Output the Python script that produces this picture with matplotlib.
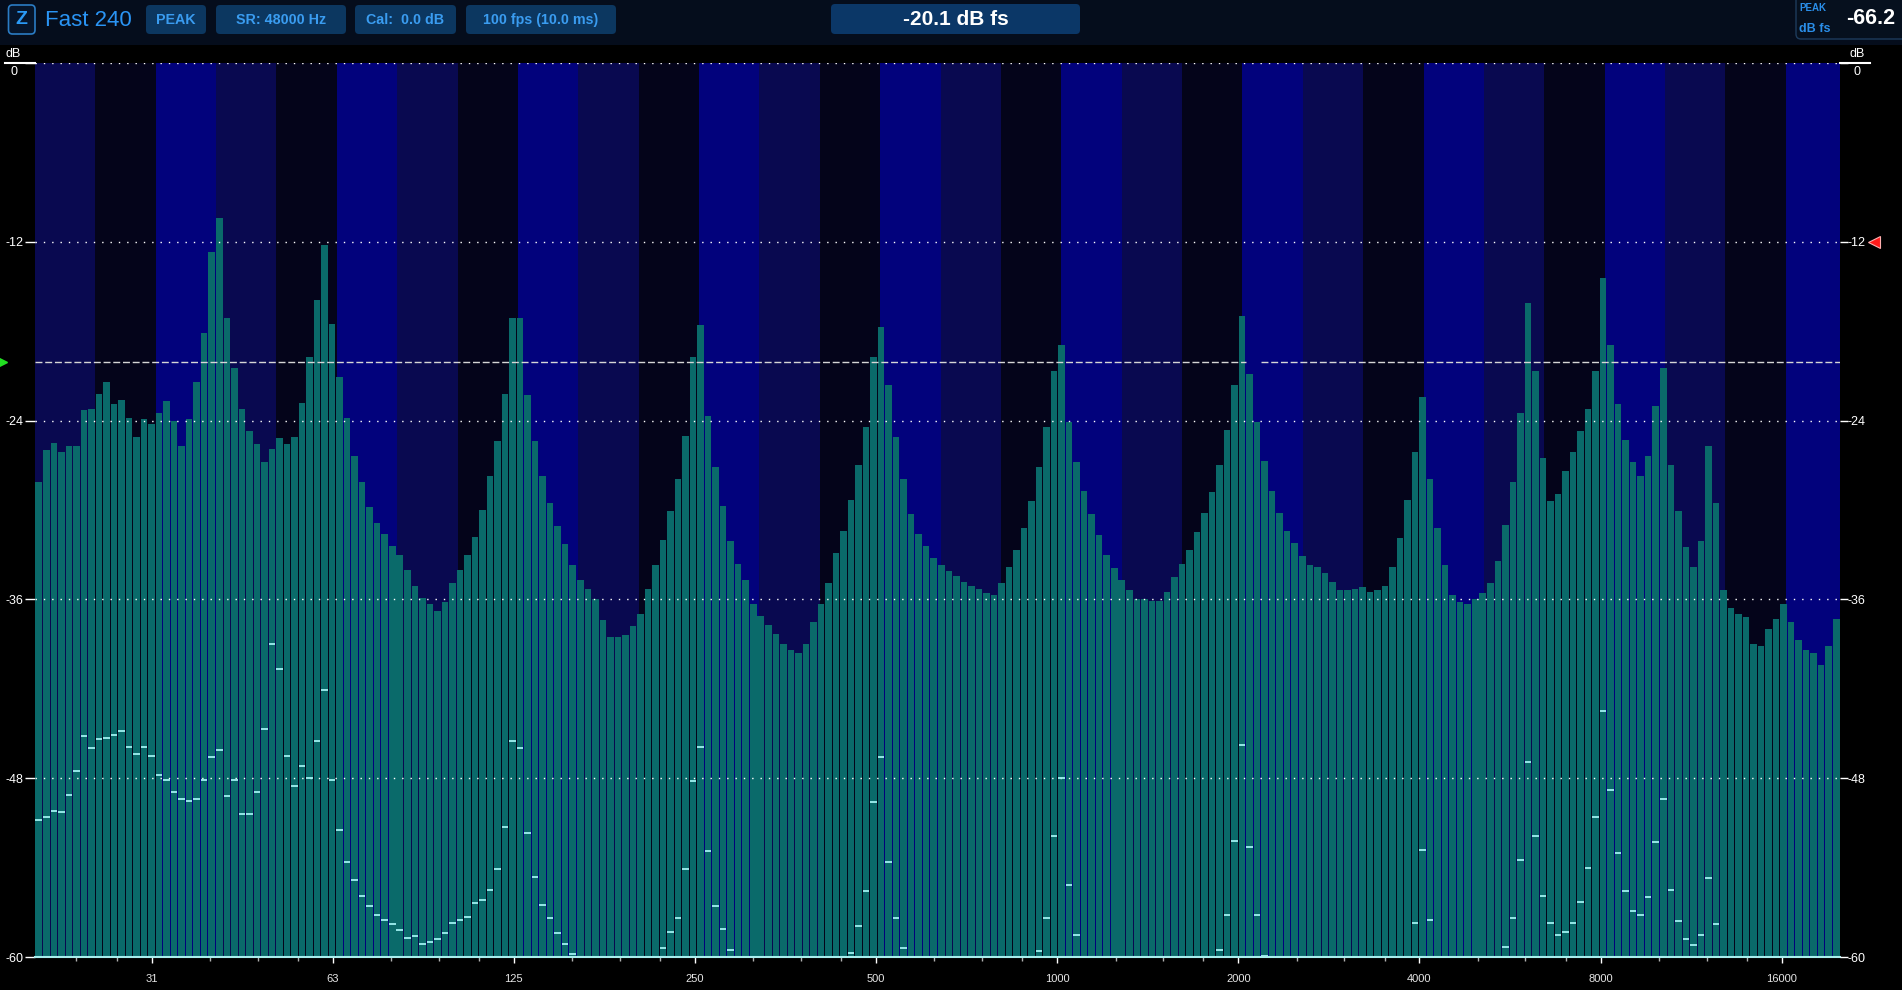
import numpy as np
import matplotlib
matplotlib.use("Agg")
import matplotlib.pyplot as plt
from matplotlib.patches import Rectangle, FancyBboxPatch
import matplotlib.transforms as mtransforms

plt.rcParams['font.family'] = ['Liberation Sans', 'DejaVu Sans']

# ---------------- data ----------------
n_bands = 240
f_low, f_high = 20.0, 20000.0

peak_db = [
    -28.1, -26.0, -25.5, -26.1, -25.7, -25.7, -23.3, -23.2, -22.2, -21.4,
    -22.9, -22.6, -23.8, -25.1, -23.9, -24.2, -23.5, -22.7, -24.0, -25.7,
    -23.9, -21.4, -18.1, -12.7, -10.4, -17.1, -20.5, -23.2, -24.7, -25.6,
    -26.8, -25.9, -25.2, -25.6, -25.1, -22.8, -19.7, -15.9, -12.2, -17.5,
    -21.1, -23.8, -26.4, -28.1, -29.8, -30.9, -31.6, -32.4, -33.0, -34.0,
    -35.1, -35.9, -36.3, -36.8, -36.2, -34.9, -34.0, -33.0, -31.8, -30.0,
    -27.7, -25.4, -22.2, -17.1, -17.1, -22.3, -25.4, -27.7, -29.5, -31.1,
    -32.3, -33.7, -34.7, -35.3, -36.0, -37.4, -38.5, -38.5, -38.4, -37.8,
    -37.0, -35.3, -33.7, -32.0, -30.1, -27.9, -25.0, -19.7, -17.6, -23.7,
    -27.1, -29.7, -32.1, -33.6, -34.7, -36.3, -37.1, -37.7, -38.3, -39.0,
    -39.4, -39.6, -39.0, -37.5, -36.3, -34.9, -32.9, -31.4, -29.3, -27.0,
    -24.4, -19.7, -17.7, -21.6, -25.1, -27.9, -30.3, -31.6, -32.4, -33.2,
    -33.7, -34.1, -34.4, -34.8, -35.1, -35.3, -35.6, -35.7, -34.9, -33.8,
    -32.7, -31.2, -29.4, -27.1, -24.4, -20.7, -18.9, -24.1, -26.8, -28.7,
    -30.3, -31.7, -33.0, -33.9, -34.7, -35.4, -36.0, -36.0, -36.1, -36.1,
    -35.5, -34.5, -33.6, -32.7, -31.5, -30.2, -28.8, -27.0, -24.6, -21.6,
    -17.0, -20.9, -24.1, -26.7, -28.7, -30.2, -31.4, -32.2, -33.1, -33.7,
    -33.8, -34.2, -34.8, -35.4, -35.4, -35.3, -35.2, -35.5, -35.4, -35.1,
    -33.8, -31.9, -29.3, -26.1, -22.4, -27.9, -31.2, -33.7, -35.7, -36.2,
    -36.3, -36.0, -35.6, -34.9, -33.4, -31.0, -28.1, -23.5, -16.1, -20.7,
    -26.5, -29.4, -28.9, -27.4, -26.1, -24.7, -23.2, -20.7, -14.4, -18.9,
    -22.9, -25.3, -26.8, -27.7, -26.4, -23.0, -20.5, -27.0, -30.1, -32.5,
    -33.8, -32.1, -25.7, -29.5, -35.4, -36.6, -37.0, -37.2, -39.0, -39.1,
    -38.0, -37.3, -36.3, -37.5, -38.7, -39.4, -39.6, -40.4, -39.1, -37.3,
]

min_db = [
    -50.8, -50.6, -50.2, -50.3, -49.1, -47.5, -45.2, -46.0, -45.4, -45.3,
    -45.1, -44.8, -45.9, -46.4, -45.9, -46.5, -47.8, -48.1, -48.9, -49.4,
    -49.5, -49.4, -48.1, -46.6, -46.1, -49.2, -48.1, -50.4, -50.4, -48.9,
    -44.7, -39.0, -40.7, -46.5, -48.5, -47.2, -48.0, -45.5, -42.1, -48.1,
    -51.5, -53.6, -54.8, -55.9, -56.6, -57.2, -57.5, -57.8, -58.2, -58.7,
    -58.6, -59.1, -59.0, -58.8, -58.4, -57.7, -57.5, -57.3, -56.4, -56.2,
    -55.5, -54.1, -51.3, -45.5, -46.0, -51.7, -54.6, -56.5, -57.4, -58.4,
    -59.1, -59.8, -60.0, -60.0, -60.0, -60.0, -60.0, -60.0, -60.0, -60.0,
    -60.0, -60.0, -60.0, -59.4, -58.3, -57.4, -54.1, -48.2, -45.9, -52.9,
    -56.6, -58.1, -59.5, -60.0, -60.0, -60.0, -60.0, -60.0, -60.0, -60.0,
    -60.0, -60.0, -60.0, -60.0, -60.0, -60.0, -60.0, -60.0, -59.7, -57.9,
    -55.6, -49.6, -46.6, -53.6, -57.4, -59.4, -60.0, -60.0, -60.0, -60.0,
    -60.0, -60.0, -60.0, -60.0, -60.0, -60.0, -60.0, -60.0, -60.0, -60.0,
    -60.0, -60.0, -60.0, -59.6, -57.4, -51.9, -48.0, -55.2, -58.5, -60.0,
    -60.0, -60.0, -60.0, -60.0, -60.0, -60.0, -60.0, -60.0, -60.0, -60.0,
    -60.0, -60.0, -60.0, -60.0, -60.0, -60.0, -60.0, -59.5, -57.2, -52.2,
    -45.8, -52.6, -57.2, -59.9, -60.0, -60.0, -60.0, -60.0, -60.0, -60.0,
    -60.0, -60.0, -60.0, -60.0, -60.0, -60.0, -60.0, -60.0, -60.0, -60.0,
    -60.0, -60.0, -60.0, -57.7, -52.8, -57.5, -60.0, -60.0, -60.0, -60.0,
    -60.0, -60.0, -60.0, -60.0, -60.0, -59.3, -57.4, -53.5, -46.9, -51.9,
    -55.9, -57.7, -58.5, -58.3, -57.7, -56.3, -54.0, -50.6, -43.5, -48.8,
    -53.0, -55.6, -56.9, -57.2, -56.0, -52.3, -49.4, -55.5, -57.6, -58.8,
    -59.2, -58.5, -54.7, -57.8, -60.0, -60.0, -60.0, -60.0, -60.0, -60.0,
    -60.0, -60.0, -60.0, -60.0, -60.0, -60.0, -60.0, -60.0, -60.0, -60.0,
]

level_db = -20.1
level_gap_hz = (2060.0, 2180.0)
threshold_db = -12.0
peak_readout = "-66.2"

xtick_freqs = [31.25, 62.5, 125, 250, 500, 1000, 2000, 4000, 8000, 16000]
xtick_labels = ['31', '63', '125', '250', '500', '1000', '2000', '4000', '8000', '16000']
ytick_vals = [0, -12, -24, -36, -48, -60]
ytick_labels = ['', '-12', '-24', '-36', '-48', '-60']

header_buttons = ["PEAK", "SR: 48000 Hz", "Cal:  0.0 dB", "100 fps (10.0 ms)"]
title_text = "Fast 240"
level_text = "-20.1 dB fs"

# ---------------- figure ----------------
W, H = 1902, 990
fig = plt.figure(figsize=(W / 100, H / 100), dpi=100, facecolor='black')

ax_l, ax_r, ax_t, ax_b = 35, 1840, 63, 957
ax = fig.add_axes([ax_l / W, 1 - ax_b / H, (ax_r - ax_l) / W, (ax_b - ax_t) / H])
ax.set_facecolor('black')
ax.set_xscale('log')
ax.set_xlim(f_low, f_high)
ax.set_ylim(-60, 0)

# third-octave background bands
band_cols = ['#090950', '#04041a', '#02027c']
n_third = int(np.ceil(3 * np.log2(f_high / f_low)))
for k in range(n_third):
    ax.axvspan(f_low * 2 ** (k / 3), f_low * 2 ** ((k + 1) / 3),
               color=band_cols[k % 3], lw=0, zorder=0)

# bars
ratio = (f_high / f_low) ** (1.0 / n_bands)
edges = f_low * ratio ** np.arange(n_bands + 1)
gap = 0.065
lefts = edges[:-1] * ratio ** gap
rights = edges[1:] * ratio ** (-gap)
peak = np.array(peak_db)
mins = np.array(min_db)
ax.bar(lefts, peak + 60, width=rights - lefts, bottom=-60, align='edge',
       color='#0a6a6a', lw=0, zorder=2)

# min markers
mask = mins > -59.95
ax.hlines(mins[mask], lefts[mask], rights[mask], colors='#a0f2f2', lw=1.3, zorder=4)

# grid lines
for y in ytick_vals[:-1]:
    ax.axhline(y, color='white', lw=1.0, ls=(0, (1, 5)), zorder=3)

# level line (with small gap)
ax.hlines(level_db, f_low, level_gap_hz[0], colors='#d6d6d6', lw=1.0,
          linestyles=(0, (5, 2)), zorder=5)
ax.hlines(level_db, level_gap_hz[1], f_high, colors='#d6d6d6', lw=1.0,
          linestyles=(0, (5, 2)), zorder=5)

# spines
for s in ['top', 'left', 'right']:
    ax.spines[s].set_visible(False)
ax.spines['bottom'].set_color('#a8eeee')
ax.spines['bottom'].set_linewidth(1.5)
ax.spines['bottom'].set_zorder(6)

# x ticks
ax.set_xticks(xtick_freqs, xtick_labels)
minor = []
for k in range(12):
    base = 15.625 * 2 ** k
    for m in (1.25, 1.5, 1.75):
        f = base * m
        if f_low < f < f_high:
            minor.append(f)
ax.set_xticks(minor, minor=True)
ax.xaxis.set_minor_formatter(matplotlib.ticker.NullFormatter())
ax.tick_params(axis='x', which='major', colors='white', length=4.5, width=1,
               labelsize=8, pad=7.5, labelcolor='#e6e6e6')
ax.tick_params(axis='x', which='minor', colors='#b0b0b0', length=3, width=1)

# y ticks left
ax.set_yticks(ytick_vals, ytick_labels)
ax.tick_params(axis='y', which='both', left=True, right=False, colors='white',
               length=7, width=1, labelsize=9, pad=8.1)
for t in ax.get_yticklabels():
    t.set_ha('center')

# y ticks right
ax2 = ax.twinx()
ax2.set_ylim(-60, 0)
ax2.set_yticks(ytick_vals, ytick_labels)
for s in ax2.spines.values():
    s.set_visible(False)
ax2.tick_params(axis='y', right=True, left=False, labelright=True, labelleft=False,
                colors='white', length=5.8, width=1, labelsize=9, pad=6)
for t in ax2.get_yticklabels():
    t.set_ha('center')

blend = mtransforms.blended_transform_factory(ax.transAxes, ax.transData)
axw = ax_r - ax_l
# long zero ticks + dB captions
ax.plot([-30 / axw, 0], [0, 0], transform=blend, color='white', lw=1.5, clip_on=False, zorder=6)
ax.plot([1, 1 + 30 / axw], [0, 0], transform=blend, color='white', lw=1.5, clip_on=False, zorder=6)
for xoff in (-21.5 * 0.72, 17.5 * 0.72):
    xa = 0 if xoff < 0 else 1
    ax.annotate('dB', xy=(xa, 0), xycoords=blend, xytext=(xoff, 2), textcoords='offset points',
                ha='center', va='bottom', color='white', fontsize=9, annotation_clip=False)
    ax.annotate('0', xy=(xa, 0), xycoords=blend, xytext=(xoff, -2.5), textcoords='offset points',
                ha='center', va='top', color='white', fontsize=9, annotation_clip=False)

# markers: threshold (red) and level (green)
ax.plot([1 + 34 / axw], [threshold_db], transform=blend, marker='<', ms=9,
        color='#ff1a1a', mec='#ffb0b0', mew=0.8, clip_on=False, zorder=7)
ax.plot([-33 / axw], [level_db], transform=blend, marker='>', ms=7,
        color='#22e022', mec='#22e022', clip_on=False, zorder=7)

# ---------------- header ----------------
hdr = fig.add_axes([0, 0, 1, 1], zorder=10)
hdr.set_xlim(0, W)
hdr.set_ylim(H, 0)
hdr.axis('off')
hdr.patch.set_alpha(0)

hdr.add_patch(Rectangle((0, 0), W, 45, color='#050d1c', lw=0))

def rbox(x0, x1, y0, y1, fc, ec='none', lw=0, r=4):
    hdr.add_patch(FancyBboxPatch((x0, y0), x1 - x0, y1 - y0,
                                 boxstyle=f"round,pad=0,rounding_size={r}",
                                 fc=fc, ec=ec, lw=lw))

rbox(8.5, 35, 5, 34, '#06152b', '#2b7cc4', 1.2, 4)
hdr.text(21.7, 20, 'Z', ha='center', va='center', color='#2a9af6',
         fontsize=14, fontweight='bold')
hdr.text(45, 20, title_text, ha='left', va='center', color='#2a94f4', fontsize=16,
         fontweight='medium')

btn_x = [(146, 206), (216, 346), (355, 456), (466, 616)]
for (x0, x1), label in zip(btn_x, header_buttons):
    rbox(x0, x1, 5, 34, '#0c3760')
    hdr.text((x0 + x1) / 2, 20, label, ha='center', va='center', color='#3a9cf0',
             fontsize=10.3, fontweight='bold')

rbox(831, 1080, 4, 34, '#0b3767')
hdr.text(955.5, 19.5, level_text, ha='center', va='center', color='white',
         fontsize=15, fontweight='bold')

rbox(1796, 1920, -10, 39, '#06101e', '#1d3b5c', 1.0, 5)
hdr.text(1799, 8, 'PEAK', ha='left', va='center', color='#2a8ee8', fontsize=7, fontweight='bold')
hdr.text(1799, 29, 'dB fs', ha='left', va='center', color='#2a8ee8', fontsize=9, fontweight='bold')
hdr.text(1895, 19, peak_readout, ha='right', va='center', color='white', fontsize=15.5,
         fontweight='bold')

fig.savefig('out.png', dpi=100, facecolor='black')
